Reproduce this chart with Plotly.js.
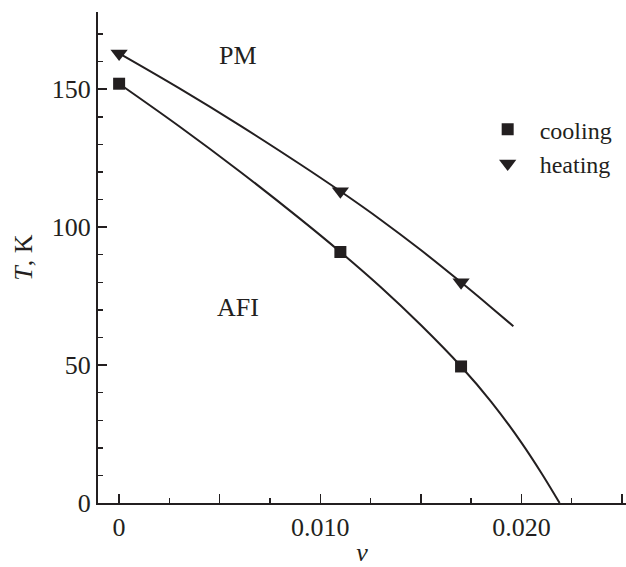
<!DOCTYPE html>
<html>
<head>
<meta charset="utf-8">
<script src="https://cdn.plot.ly/plotly-3.0.1.min.js"></script>
<style>html,body{margin:0;padding:0;background:#fff;}#chart{width:626px;height:567px;}</style>
</head>
<body>
<div id="chart"></div>
<script>
// Measured points
const coolingV = [0, 0.011, 0.017];
const coolingT = [152, 91, 49.5];
const heatingV = [0, 0.011, 0.017];
const heatingT = [163, 113, 80];

// Fitted curves
const coolingCurveV = [0, 0.003, 0.006, 0.009, 0.011, 0.013, 0.015, 0.017, 0.0185, 0.020, 0.021, 0.0219];
const coolingCurveT = [152, 136.5, 120.2, 103, 91, 78.3, 64.5, 49.5, 36.7, 21.9, 10.8, 0];
const heatingCurveV = [0, 0.003, 0.006, 0.009, 0.011, 0.013, 0.015, 0.017, 0.0185, 0.0196];
const heatingCurveT = [163, 150.3, 136.9, 122.8, 113, 102.7, 91.7, 80, 70.9, 64.1];

// Tick labels
const xTickVals = [0, 0.005, 0.010, 0.015, 0.020, 0.025];
const xTickText = ['0', '', '0.010', '', '0.020', ''];
const yTickVals = [0, 50, 100, 150];
const yTickText = ['0', '50', '100', '150'];

const ink = '#231f20';
const font = 'Liberation Serif, Times New Roman, serif';

const traces = [
  {x: coolingCurveV, y: coolingCurveT, mode: 'lines', line: {color: ink, width: 2, shape: 'spline', smoothing: 1}, showlegend: false, hoverinfo: 'skip'},
  {x: heatingCurveV, y: heatingCurveT, mode: 'lines', line: {color: ink, width: 2, shape: 'spline', smoothing: 1}, showlegend: false, hoverinfo: 'skip'},
  {x: coolingV, y: coolingT, mode: 'markers', name: 'cooling', marker: {symbol: 'square', size: 12, color: ink}},
  {x: heatingV, y: heatingT, mode: 'markers', name: 'heating', marker: {symbol: 'triangle-down', size: 15, color: ink}}
];

const layout = {
  width: 626, height: 567,
  margin: {l: 98, r: 0, t: 12, b: 64},
  paper_bgcolor: '#fff', plot_bgcolor: '#fff',
  font: {family: font, size: 26, color: ink},
  showlegend: true,
  legend: {x: 0.7153, y: 0.806, xanchor: 'left', yanchor: 'top', itemwidth: 54, bgcolor: 'rgba(0,0,0,0)', font: {family: font, size: 24, color: ink}, tracegroupgap: 0},
  xaxis: {
    range: [-0.00105, 0.0252],
    showgrid: false, zeroline: false,
    showline: true, linecolor: ink, linewidth: 2,
    ticks: 'inside', ticklen: 9, tickwidth: 1.5, tickcolor: ink,
    tickmode: 'array', tickvals: xTickVals, ticktext: xTickText,
    minor: {tickmode: 'linear', tick0: 0, dtick: 0.0025, ticks: 'inside', ticklen: 5, tickwidth: 1.5, tickcolor: ink, showgrid: false},
    tickfont: {family: font, size: 26, color: ink},
    title: {text: '<i>v</i>', font: {family: font, size: 26, color: ink}, standoff: 2}
  },
  yaxis: {
    range: [0, 178],
    showgrid: false, zeroline: false,
    showline: true, linecolor: ink, linewidth: 2,
    ticks: 'inside', ticklen: 9, tickwidth: 1.5, tickcolor: ink,
    tickmode: 'array', tickvals: yTickVals, ticktext: yTickText,
    minor: {tickmode: 'linear', tick0: 0, dtick: 10, ticks: 'inside', ticklen: 5, tickwidth: 1.5, tickcolor: ink, showgrid: false},
    tickfont: {family: font, size: 26, color: ink},
    title: {text: '<i>T</i>, K', font: {family: font, size: 26, color: ink}, standoff: 12}
  },
  annotations: [
    {x: 0.0059, y: 162.3, xref: 'x', yref: 'y', text: 'PM', showarrow: false, font: {family: font, size: 26, color: ink}},
    {x: 0.0059, y: 70.7, xref: 'x', yref: 'y', text: 'AFI', showarrow: false, font: {family: font, size: 26, color: ink}}
  ]
};

Plotly.newPlot('chart', traces, layout, {staticPlot: true, displayModeBar: false});
</script>
</body>
</html>
